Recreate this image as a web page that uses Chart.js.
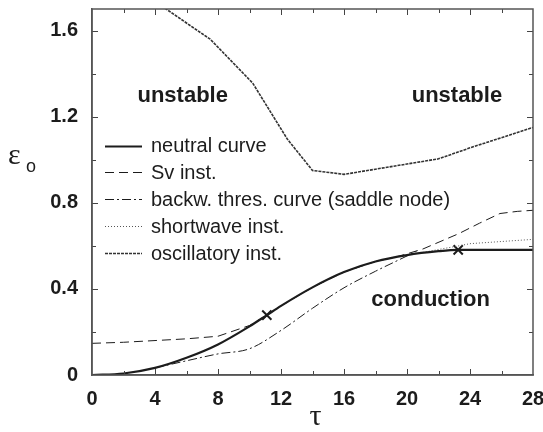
<!DOCTYPE html>
<html>
<head>
<meta charset="utf-8">
<script src="https://cdn.jsdelivr.net/npm/chart.js@4.4.0/dist/chart.umd.min.js"></script>
<style>
  html, body { margin: 0; padding: 0; background: #fff; }
  canvas { display: block; }
</style>
</head>
<body>
<canvas id="stabilityChart" width="543" height="432"></canvas>
<script>
// curvas (tau, epsilon_o)
const neutralTau = [0, 2, 4, 6, 8, 10, 11.1, 12, 14, 16, 18, 20, 22, 23.25, 28];
const neutralEps = [0, 0.007, 0.033, 0.08, 0.142, 0.226, 0.278, 0.321, 0.407, 0.478, 0.527, 0.557, 0.575, 0.581, 0.581];

const svTau = [0, 2, 4, 6, 8, 10, 11.1, 12, 14, 16, 18, 19.5, 21, 23.3, 24.6, 25.9, 27, 28];
const svEps = [0.147, 0.152, 0.16, 0.168, 0.18, 0.23, 0.278, 0.321, 0.407, 0.478, 0.527, 0.552, 0.585, 0.657, 0.705, 0.75, 0.76, 0.765];

const backTau = [4, 6, 8, 10, 12, 14, 16, 18, 20, 20.6];
const backEps = [0.033, 0.066, 0.098, 0.122, 0.207, 0.31, 0.405, 0.482, 0.553, 0.575];

const swTau = [21, 22, 23.3, 24, 26, 28];
const swEps = [0.569, 0.583, 0.6, 0.61, 0.62, 0.63];

const oscTau = [4, 7.5, 10.2, 12.4, 14, 16, 22, 24, 28];
const oscEps = [1.735, 1.56, 1.356, 1.096, 0.95, 0.932, 1.004, 1.055, 1.15];

const markTau = [11.1, 23.25];
const markEps = [0.278, 0.581];

const xTicks = [0, 4, 8, 12, 16, 20, 24, 28];
const yTicks = [0, 0.4, 0.8, 1.2, 1.6];

const legendLabels = ['neutral curve', 'Sv inst.', 'backw. thres. curve (saddle node)', 'shortwave inst.', 'oscillatory inst.'];

function pts(xs, ys) {
    return xs.map((x, i) => ({ x: x, y: ys[i] }));
}

const ink = '#1c1c1c';

// ticks hacia adentro en los cuatro lados
const innerTicks = {
    id: 'innerTicks',
    afterDatasetsDraw(chart) {
        const { ctx, chartArea: a, scales } = chart;
        ctx.save();
        ctx.strokeStyle = '#444';
        ctx.lineWidth = 1;
        scales.x.ticks.forEach(t => {
            if (t.value <= 0 || t.value >= 28) return;
            const px = Math.round(scales.x.getPixelForValue(t.value)) + 0.5;
            const len = xTicks.includes(t.value) ? 6 : 4;
            ctx.beginPath();
            ctx.moveTo(px, a.bottom); ctx.lineTo(px, a.bottom - len);
            ctx.moveTo(px, a.top); ctx.lineTo(px, a.top + len);
            ctx.stroke();
        });
        scales.y.ticks.forEach(t => {
            if (t.value <= 0 || t.value >= 1.7) return;
            const py = Math.round(scales.y.getPixelForValue(t.value)) + 0.5;
            const major = yTicks.some(v => Math.abs(v - t.value) < 1e-6);
            const len = major ? 6 : 4;
            ctx.beginPath();
            ctx.moveTo(a.left, py); ctx.lineTo(a.left + len, py);
            ctx.moveTo(a.right, py); ctx.lineTo(a.right - len, py);
            ctx.stroke();
        });
        ctx.lineWidth = 1.5;
        ctx.strokeStyle = '#555';
        ctx.strokeRect(a.left, a.top, a.right - a.left, a.bottom - a.top);
        ctx.restore();
    }
};

// textos de regiones, titulos de ejes y leyenda
const annotations = {
    id: 'annotations',
    afterDraw(chart) {
        const { ctx, scales } = chart;
        const sx = scales.x, sy = scales.y;
        ctx.save();
        ctx.fillStyle = ink;
        ctx.font = 'bold 22px "Liberation Sans", Arial, sans-serif';
        ctx.textAlign = 'center';
        ctx.textBaseline = 'middle';
        ctx.fillText('unstable', sx.getPixelForValue(5.76), sy.getPixelForValue(1.296));
        ctx.fillText('unstable', sx.getPixelForValue(23.17), sy.getPixelForValue(1.296));
        ctx.fillText('conduction', sx.getPixelForValue(21.5), sy.getPixelForValue(0.35));

        // titulos de ejes
        ctx.font = '30px "Liberation Serif", "DejaVu Serif", serif';
        ctx.fillText('\u03c4', (chart.chartArea.left + chart.chartArea.right) / 2 + 3, 417);
        ctx.textAlign = 'left';
        ctx.fillText('\u03b5', 8, 156);
        ctx.font = '18px "Liberation Sans", Arial, sans-serif';
        ctx.fillText('o', 26, 167);

        // leyenda
        const rows = [145.5, 172, 199, 226, 253];
        chart.data.datasets.forEach((ds, i) => {
            if (i >= legendLabels.length) return;
            const y = Math.round(rows[i]) + 0.5;
            ctx.strokeStyle = ds.borderColor;
            ctx.lineWidth = ds.borderWidth;
            ctx.setLineDash(ds.borderDash || []);
            ctx.beginPath();
            ctx.moveTo(105, y);
            ctx.lineTo(142, y);
            ctx.stroke();
            ctx.setLineDash([]);
            ctx.fillStyle = ink;
            ctx.font = '20px "Liberation Sans", Arial, sans-serif';
            ctx.textAlign = 'left';
            ctx.textBaseline = 'middle';
            ctx.fillText(legendLabels[i], 151, rows[i] + 1);
        });
        ctx.restore();
    }
};

const chartData = {
    datasets: [
        {
            label: legendLabels[0],
            data: pts(neutralTau, neutralEps),
            borderColor: ink,
            borderWidth: 2.2,
            cubicInterpolationMode: 'monotone'
        },
        {
            label: legendLabels[1],
            data: pts(svTau, svEps),
            borderColor: ink,
            borderWidth: 1,
            borderDash: [9, 5]
        },
        {
            label: legendLabels[2],
            data: pts(backTau, backEps),
            borderColor: ink,
            borderWidth: 1,
            borderDash: [9, 3, 2, 3],
            cubicInterpolationMode: 'monotone'
        },
        {
            label: legendLabels[3],
            data: pts(swTau, swEps),
            borderColor: '#555',
            borderWidth: 1,
            borderDash: [1, 2]
        },
        {
            label: legendLabels[4],
            data: pts(oscTau, oscEps),
            borderColor: '#333',
            borderWidth: 1.6,
            borderDash: [3, 1]
        },
        {
            label: 'markers',
            data: pts(markTau, markEps),
            showLine: false,
            pointStyle: 'crossRot',
            pointRadius: 6.5,
            borderColor: ink,
            borderWidth: 2
        }
    ]
};

const tickFont = { family: '"Liberation Sans", Arial, sans-serif', size: 20, weight: 'bold' };

const chartConfig = {
    type: 'scatter',
    data: chartData,
    plugins: [innerTicks, annotations],
    options: {
        responsive: false,
        animation: false,
        showLine: true,
        elements: {
            point: { radius: 0, hoverRadius: 0 },
            line: { fill: false, tension: 0 }
        },
        layout: { padding: { top: 9, right: 10, left: 0, bottom: 0 } },
        plugins: {
            legend: { display: false },
            tooltip: { enabled: false }
        },
        scales: {
            x: {
                type: 'linear',
                min: 0,
                max: 28,
                grid: { display: true, drawOnChartArea: false, drawTicks: true, tickLength: 12, tickColor: 'rgba(0,0,0,0)' },
                border: { display: true, color: '#555', width: 1.5 },
                afterFit(scale) {
                    scale.height = 57;
                    scale.paddingLeft = 0;
                    scale.paddingRight = 0;
                },
                ticks: {
                    stepSize: 2,
                    autoSkip: false,
                    maxRotation: 0,
                    padding: 0,
                    color: ink,
                    font: tickFont,
                    callback: v => (xTicks.includes(v) ? String(v) : '')
                }
            },
            y: {
                type: 'linear',
                min: 0,
                max: 1.7,
                grid: { display: true, drawOnChartArea: false, drawTicks: true, tickLength: 14, tickColor: 'rgba(0,0,0,0)' },
                border: { display: true, color: '#555', width: 1.5 },
                afterFit(scale) {
                    scale.width = 92;
                    scale.paddingTop = 0;
                    scale.paddingBottom = 0;
                },
                ticks: {
                    stepSize: 0.2,
                    includeBounds: false,
                    autoSkip: false,
                    padding: 0,
                    color: ink,
                    font: tickFont,
                    callback: v => {
                        const hit = yTicks.find(t => Math.abs(t - v) < 1e-6);
                        return hit === undefined ? '' : String(hit);
                    }
                }
            }
        }
    }
};

const stabilityChart = new Chart(
    document.getElementById('stabilityChart'),
    chartConfig
);
</script>
</body>
</html>
